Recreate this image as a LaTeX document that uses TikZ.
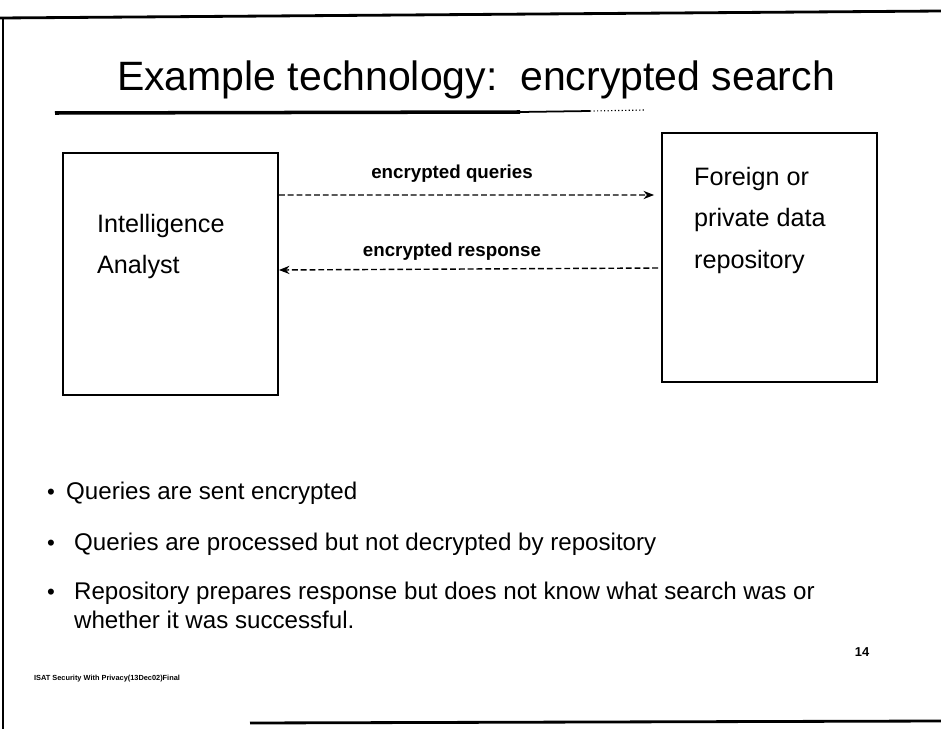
\documentclass[tikz,border=0pt]{standalone}
\usepackage{fontspec}
\setmainfont{Liberation Sans}
\usetikzlibrary{arrows.meta,positioning}

\tikzset{
  box/.style={draw, line width=1.6pt, minimum width=6.45cm, inner sep=0pt},
  boxtext/.style={anchor=base west, font=\fontsize{21.5}{24}\selectfont},
  flow/.style={line width=1.2pt, dash pattern=on 5pt off 2.5pt, -{Stealth[length=9pt,width=7pt]}},
  flowlabel/.style={anchor=base, font=\bfseries\fontsize{16}{18}\selectfont},
  item/.style={anchor=base west, font=\fontsize{20.6}{24}\selectfont},
  dot/.style={anchor=base, font=\fontsize{19}{19}\selectfont},
  frame/.style={line width=2.4pt}
}

\begin{document}
\begin{tikzpicture}[x=0.03cm, y=-0.03cm]
  \useasboundingbox (0,0) rectangle (941,729);
  % Slide frame
  \draw[frame] (0,18) -- (941,11);
  \draw[line width=1.4pt] (3,18) -- (3,729);
  \draw[frame] (250,723) -- (941,721);
  % Title and its rule
  \node[anchor=base, font=\fontsize{35}{40}\selectfont] (title) at (476,90) {Example technology:\ \ encrypted search};
  \draw[line width=3pt] (55,113) -- (520,112);
  \draw[line width=1.5pt] (520,112) -- (590,111);
  \draw[line width=1pt, dotted] (590,111) -- (645,110);
  % Define the boxes
  \node[box, minimum height=7.26cm] (analyst) at (170.5,274) {};
  \node[box, minimum height=7.47cm] (repo) at (769.5,257.5) {};
  % Box texts
  \node[boxtext] (intel) at (93,232) {Intelligence};
  \node[boxtext] (anal) at (93,273) {Analyst};
  \node[boxtext] (foreign) at (690,185) {Foreign or};
  \node[boxtext] (private) at (690,226) {private data};
  \node[boxtext] (repository) at (690,268) {repository};
  % Draw the flows
  \draw[flow] ([yshift=2.37cm]analyst.east) -- ([xshift=-0.21cm,yshift=1.875cm]repo.west);
  \draw[flow] ([xshift=-0.09cm,yshift=-0.315cm]repo.west) -- ([yshift=0.12cm]analyst.east);
  \node[flowlabel] (queries) at (452,178) {encrypted queries};
  \node[flowlabel] (response) at (452,256) {encrypted response};
  % Bullet list
  \node[dot] (d1) at (51,499) {\textbullet};
  \node[item] (b1) at (62,499) {Queries are sent encrypted};
  \node[dot] (d2) at (51,550) {\textbullet};
  \node[item] (b2) at (70,550) {Queries are processed but not decrypted by repository};
  \node[dot] (d3) at (51,599) {\textbullet};
  \node[item] (b3) at (70,599) {Repository prepares response but does not know what search was or};
  \node[item] (b3b) at (70,628) {whether it was successful.};
  % Page number and footer
  \node[anchor=base, font=\bfseries\fontsize{11}{12}\selectfont] (page) at (862,656) {14};
  \node[anchor=base west, font=\bfseries\fontsize{6.3}{7}\selectfont] (footer) at (30,680) {ISAT Security With Privacy(13Dec02)Final};
\end{tikzpicture}
\end{document}
